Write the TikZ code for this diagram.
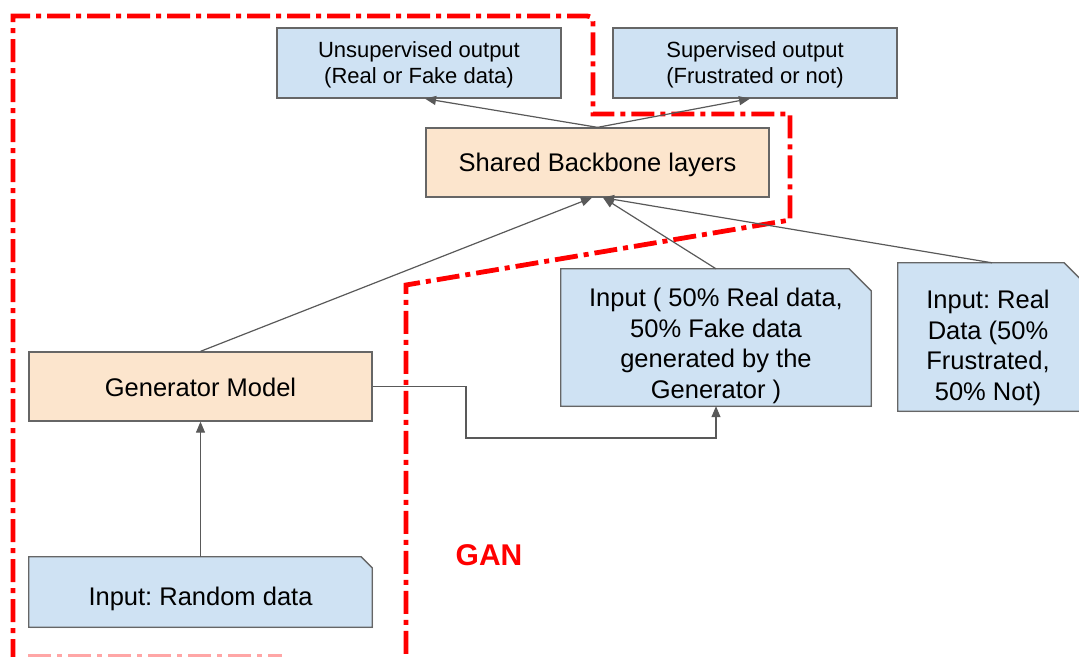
\documentclass[tikz,border=0pt]{standalone}
\usepackage{fontspec}
\setmainfont{Liberation Sans}
\frenchspacing
\usetikzlibrary{arrows.meta,shadows}
\definecolor{boxblue}{HTML}{CFE2F3}
\definecolor{boxorange}{HTML}{FCE5CD}
\definecolor{edgegray}{HTML}{666666}
\definecolor{linkgray}{HTML}{595959}
\definecolor{ganred}{HTML}{FF0000}

\begin{document}
\begin{tikzpicture}[x=1pt,y=-1pt,
  softshadow/.style={drop shadow={opacity=0.12, shadow xshift=1.2pt, shadow yshift=-1.2pt}},
  box/.style={draw=edgegray, line width=1.3pt, inner sep=0pt, align=center, text=black, softshadow},
  bluebox/.style={box, fill=boxblue},
  orangebox/.style={box, fill=boxorange},
  frame/.style={inner sep=0pt, draw=none},
  folded/.style={fill=boxblue, draw=edgegray, line width=1.3pt, line join=miter, softshadow},
  small/.style={font=\fontsize{22}{26}\selectfont\frenchspacing},
  big/.style={font=\fontsize{25.5}{30.6}\selectfont\frenchspacing},
  label/.style={align=center, inner sep=0pt, text=black},
  link/.style={draw=linkgray, line width=1.2pt, -{Triangle[length=11pt,width=9pt]}},
  boundary/.style={draw=ganred, line width=4.8pt, dash pattern=on 23pt off 6pt on 5pt off 6pt},
]
\useasboundingbox (0,0) rectangle (1079,656);

% GAN region outline
\draw[boundary] (13,662) -- (13,16) -- (582,16) .. controls (593,16) .. (593,27)
  -- (593,114) -- (790,114) -- (790,220) -- (406,285) -- (406,662);
\draw[boundary, draw=ganred!35, line width=6pt] (28,657) -- (282,657);

% output heads
\node[frame, minimum width=284pt, minimum height=70pt, bluebox] (uns) at (419,63) {};
\node[label, small] (unstxt) at (419,65) {Unsupervised output\\(Real or Fake data)};
\node[frame, minimum width=284pt, minimum height=70pt, bluebox] (sup) at (755,63) {};
\node[label, small] (suptxt) at (755,65) {Supervised output\\(Frustrated or not)};

% shared layers and generator
\node[orangebox, minimum width=343pt, minimum height=69pt] (bb) at (597.5,162.5) {};
\node[label, big] (bbtxt) at (597.5,164.5) {Shared Backbone layers};
\node[orangebox, minimum width=343pt, minimum height=69pt] (gen) at (200.5,386.5) {};
\node[label, big] (gentxt) at (200.5,387.5) {Generator Model};

% input documents (boxes with a cut corner)
\node[frame, minimum width=343pt, minimum height=70pt] (rnd) at (200.5,592) {};
\path[folded] (rnd.north west) -- ([xshift=-11pt]rnd.north east)
  -- ([yshift=-11pt]rnd.north east) -- (rnd.south east) -- (rnd.south west) -- cycle;
\node[label, big] (rndtxt) at (200.5,599) {Input: Random data};

\node[frame, minimum width=310pt, minimum height=137pt] (mix) at (716,337.5) {};
\path[folded] (mix.north west) -- ([xshift=-22pt]mix.north east)
  -- ([yshift=-22pt]mix.north east) -- (mix.south east) -- (mix.south west) -- cycle;
\node[label, big] (mixtxt) at (716,346)
  {Input ( 50\% Real data,\\50\% Fake data\\generated by the\\Generator )};

\node[frame, minimum width=188pt, minimum height=148pt] (real) at (992,337) {};
\path[folded] (real.north west) -- ([xshift=-22pt]real.north east)
  -- ([yshift=-22pt]real.north east) -- (real.south east) -- (real.south west) -- cycle;
\node[label, big] (realtxt) at (988,348)
  {Input: Real\\Data (50\%\\Frustrated,\\50\% Not)};

% connectors
\draw[link] (bb.north) -- ([xshift=6pt]uns.south);
\draw[link] (bb.north) -- ([xshift=-5pt]sup.south);
\draw[link] (gen.north) -- ([xshift=-5.5pt]bb.south);
\draw[link] (mix.north) -- ([xshift=5.5pt]bb.south);
\draw[link] (real.north) -- ([xshift=5.5pt]bb.south);
\draw[link] (rnd.north) -- (gen.south);
\coordinate (bendA) at (466,386.5);
\coordinate (bendB) at (466,438);
\draw[link] (gen.east) -- (bendA) -- (bendB) -- (bendB -| mix.south) -- (mix.south);

% region caption
\node[text=ganred, font=\bfseries\fontsize{30}{35}\selectfont, inner sep=0pt] (gan) at (489,555) {GAN};
\end{tikzpicture}
\end{document}
